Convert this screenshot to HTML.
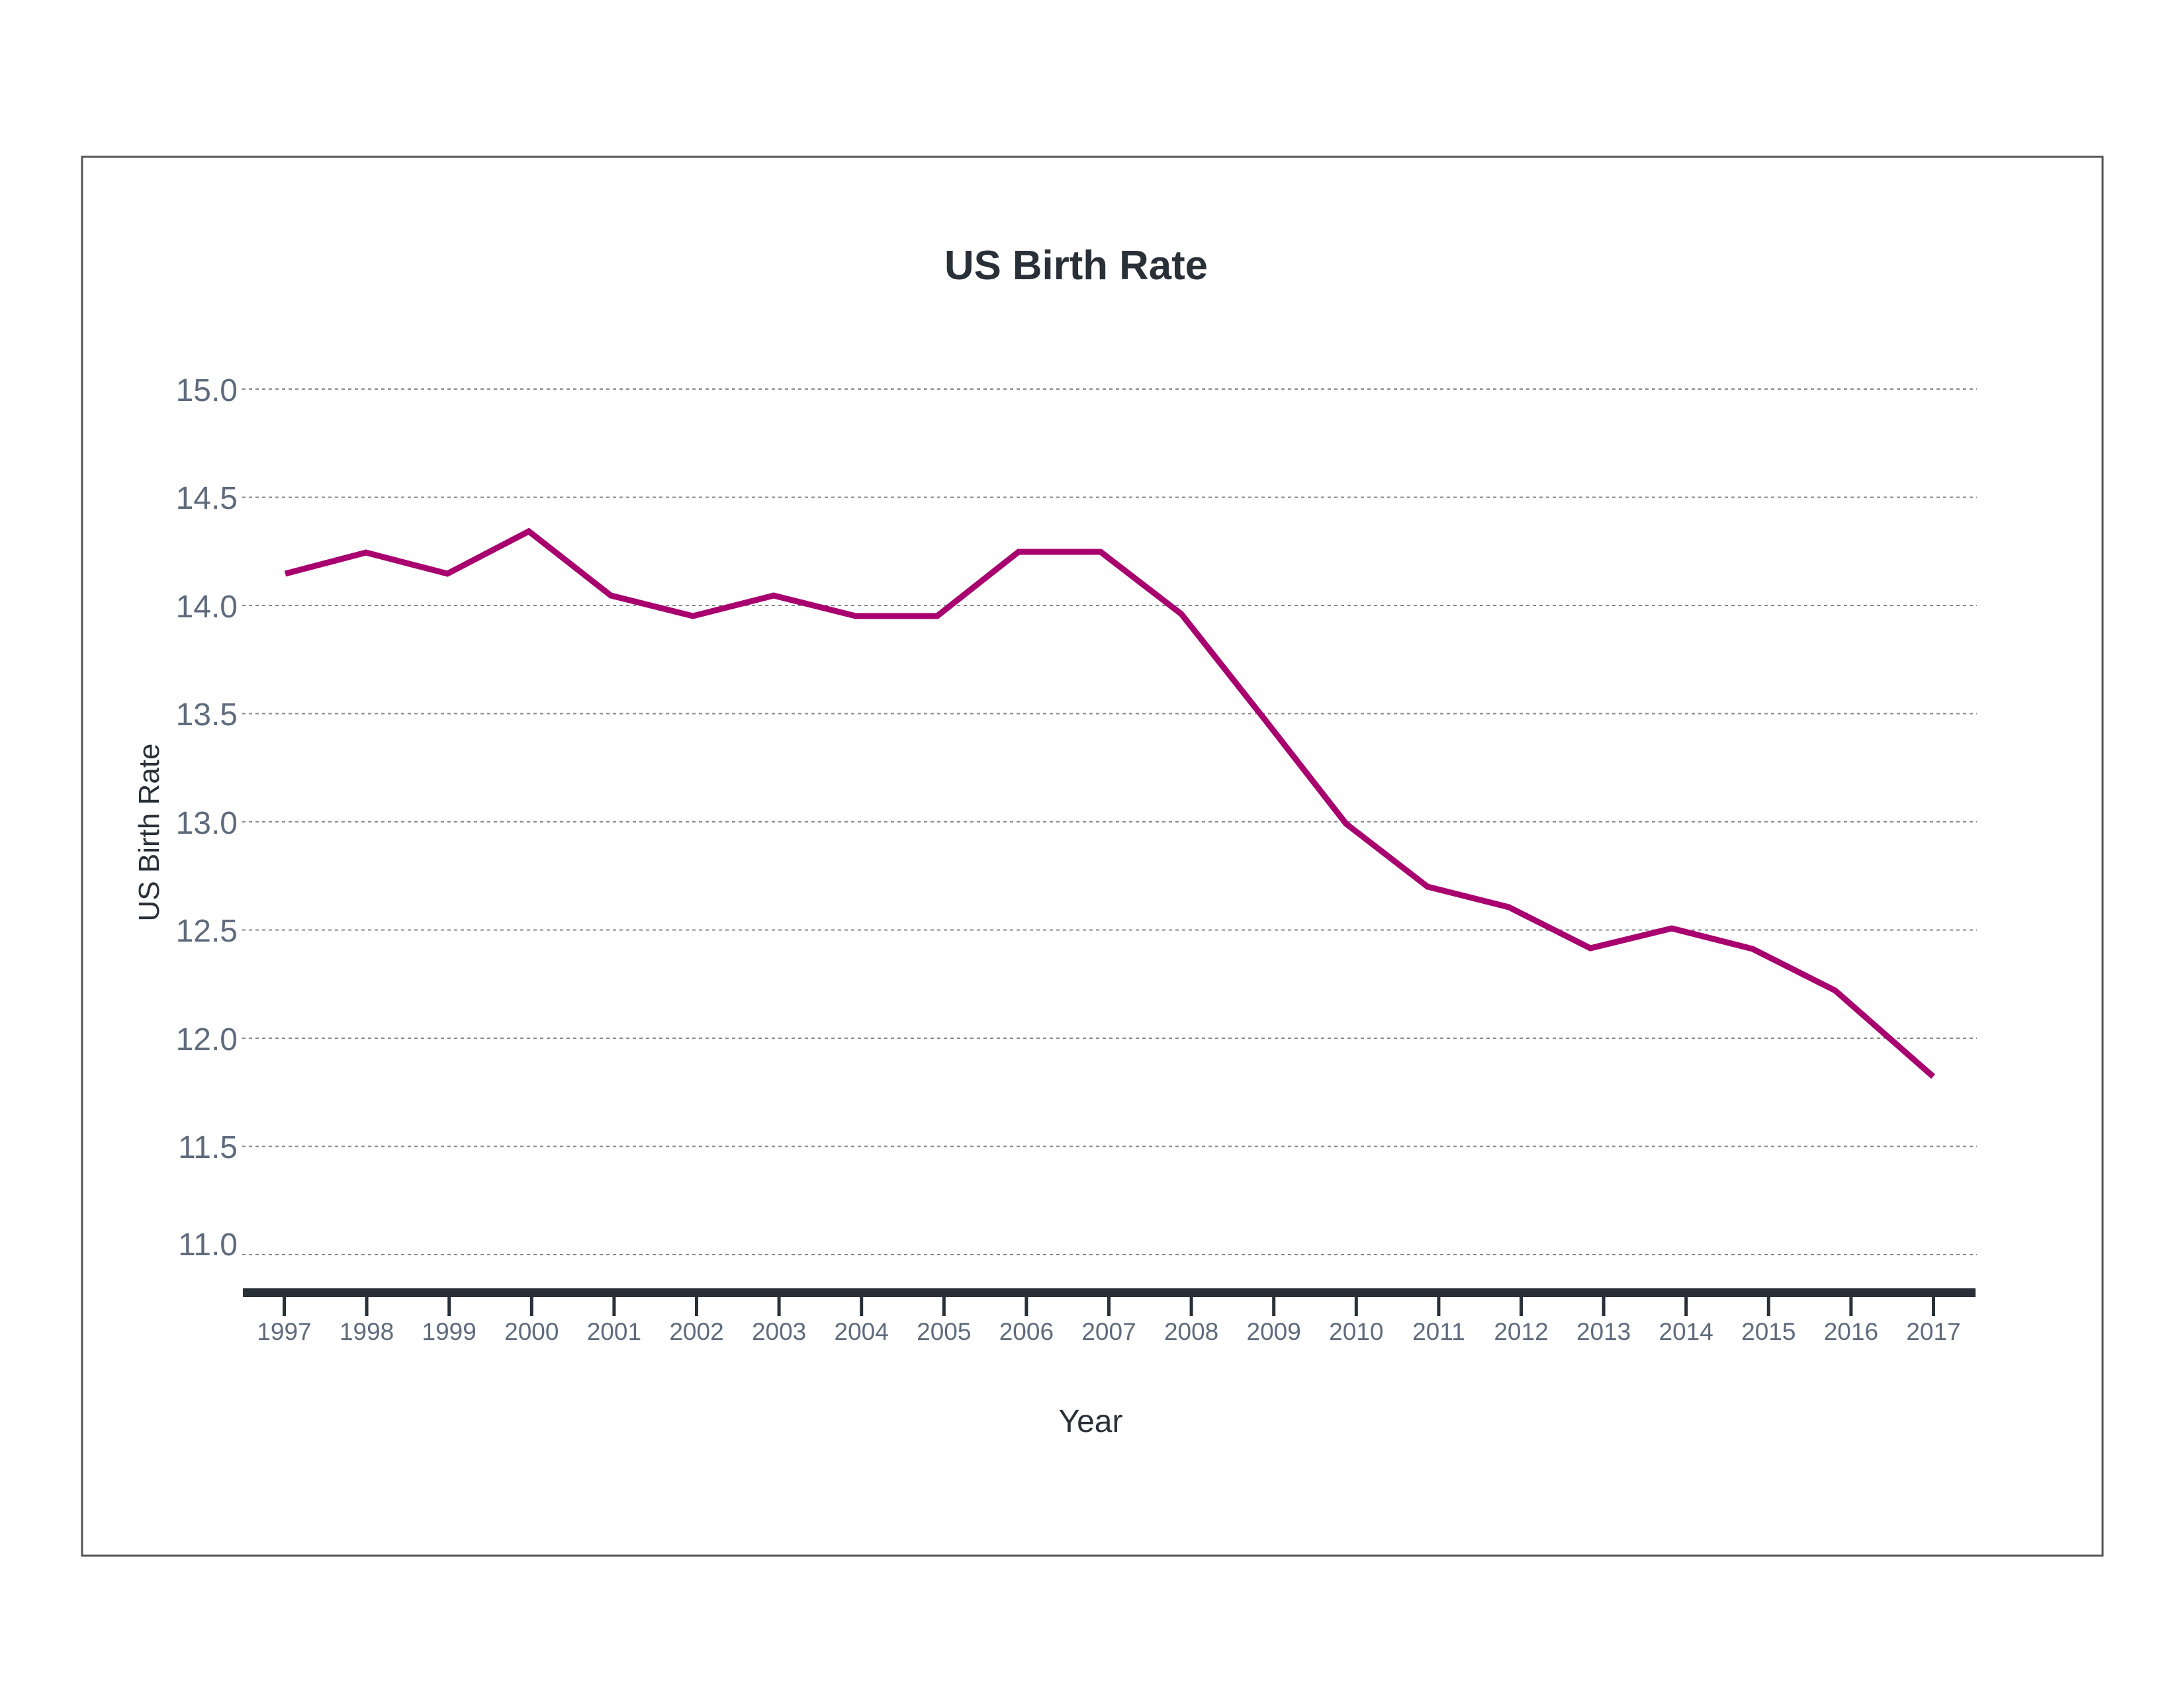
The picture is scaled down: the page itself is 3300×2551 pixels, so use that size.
<!DOCTYPE html>
<html><head><meta charset="utf-8"><style>
html,body{margin:0;padding:0;background:#fff}
svg{display:block}
text{font-family:"Liberation Sans",sans-serif}
</style></head><body>
<svg width="3300" height="2551" viewBox="0 0 3300 2551" xmlns="http://www.w3.org/2000/svg">
<rect x="0" y="0" width="3300" height="2551" fill="#fff"/>
<rect x="124" y="237" width="3053" height="2114" fill="none" stroke="#555" stroke-width="3"/>
<text x="1626" y="422" text-anchor="middle" font-size="62" font-weight="bold" fill="#2a3038" textLength="398" lengthAdjust="spacingAndGlyphs">US Birth Rate</text>
<g stroke="#888" stroke-width="2" stroke-dasharray="5,5">
<line x1="366" x2="2987" y1="588" y2="588"/>
<line x1="366" x2="2987" y1="751.5" y2="751.5"/>
<line x1="366" x2="2987" y1="915" y2="915"/>
<line x1="366" x2="2987" y1="1078.5" y2="1078.5"/>
<line x1="366" x2="2987" y1="1242" y2="1242"/>
<line x1="366" x2="2987" y1="1405.5" y2="1405.5"/>
<line x1="366" x2="2987" y1="1569" y2="1569"/>
<line x1="366" x2="2987" y1="1732.5" y2="1732.5"/>
<line x1="366" x2="2987" y1="1896" y2="1896"/>
</g>
<g font-size="48" fill="#5f6b7d" text-anchor="end">
<text x="359" y="606">15.0</text>
<text x="359" y="769">14.5</text>
<text x="359" y="933">14.0</text>
<text x="359" y="1096">13.5</text>
<text x="359" y="1260">13.0</text>
<text x="359" y="1423">12.5</text>
<text x="359" y="1587">12.0</text>
<text x="359" y="1750">11.5</text>
<text x="359" y="1897">11.0</text>
</g>
<text transform="translate(240,1258) rotate(-90)" text-anchor="middle" font-size="44" fill="#2a3038">US Birth Rate</text>
<rect x="367" y="1947" width="2618" height="13" fill="#2a3038"/>
<g stroke="#2a3038" stroke-width="5" id="ticks"></g>
<g font-size="37" fill="#5f6b7d" text-anchor="middle" id="xl"></g>
<text x="1648" y="2164" text-anchor="middle" font-size="48" fill="#2a3038">Year</text>
<polyline fill="none" stroke="#a8006f" stroke-width="9" stroke-linejoin="miter" points="431,867 553,835 676,867 799,803 923,900 1047,931 1169,900 1293,931 1416,931 1539,834 1663,834 1785,928 1910,1086 2034,1245 2157,1340 2280,1371 2403,1433 2526,1403 2648,1434 2773,1497 2921,1627"/>
<script>
var t=document.getElementById('ticks'),l=document.getElementById('xl'),ns='http://www.w3.org/2000/svg';
for(var i=0;i<21;i++){var x=429.5+i*124.6;
var ln=document.createElementNS(ns,'line');ln.setAttribute('x1',x);ln.setAttribute('x2',x);ln.setAttribute('y1',1958);ln.setAttribute('y2',1989);t.appendChild(ln);
var tx=document.createElementNS(ns,'text');tx.setAttribute('x',x);tx.setAttribute('y',2025);tx.textContent=1997+i;l.appendChild(tx);}
</script>
</svg>
</body></html>
